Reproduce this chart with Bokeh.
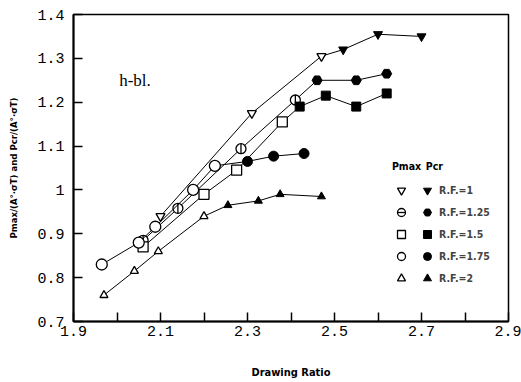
from bokeh.plotting import figure
from bokeh.models import FixedTicker, Legend, LegendItem, Label
from bokeh.embed import file_html
from bokeh.resources import INLINE
import math

# ---- data ----
rf1_pmax_x = [2.10, 2.31, 2.47]
rf1_pmax_y = [0.94, 1.175, 1.305]
rf1_pcr_x = [2.52, 2.60, 2.70]
rf1_pcr_y = [1.32, 1.355, 1.35]

rf125_pmax_x = [2.06, 2.14, 2.285, 2.41]
rf125_pmax_y = [0.885, 0.958, 1.094, 1.205]
rf125_pcr_x = [2.46, 2.55, 2.62]
rf125_pcr_y = [1.25, 1.25, 1.265]

rf15_pmax_x = [2.06, 2.20, 2.275, 2.38]
rf15_pmax_y = [0.87, 0.99, 1.045, 1.155]
rf15_pcr_x = [2.42, 2.48, 2.55, 2.62]
rf15_pcr_y = [1.19, 1.215, 1.19, 1.22]

rf175_pmax_x = [1.965, 2.05, 2.088, 2.175, 2.225]
rf175_pmax_y = [0.83, 0.88, 0.916, 1.0, 1.055]
rf175_pcr_x = [2.30, 2.36, 2.43]
rf175_pcr_y = [1.065, 1.077, 1.083]

rf2_pmax_x = [1.97, 2.04, 2.095, 2.20]
rf2_pmax_y = [0.76, 0.815, 0.86, 0.94]
rf2_pcr_x = [2.255, 2.325, 2.375, 2.47]
rf2_pcr_y = [0.965, 0.975, 0.99, 0.985]

series_labels = ["R.F.=1", "R.F.=1.25", "R.F.=1.5", "R.F.=1.75", "R.F.=2"]

x_major = [1.9, 2.1, 2.3, 2.5, 2.7, 2.9]
x_minor = [2.0, 2.2, 2.4, 2.6, 2.8]
y_ticks = [0.7, 0.8, 0.9, 1.0, 1.1, 1.2, 1.3, 1.4]
y_tick_labels = ["0.7", "0.8", "0.9", "1", "1.1", "1.2", "1.3", "1.4"]

TICK_FONT = "Liberation Mono"
NARROW = "Liberation Sans Narrow, DejaVu Sans Condensed, Arial Narrow, sans-serif"

p = figure(width=521, height=382, output_backend="svg", toolbar_location=None,
           x_range=(1.9, 2.9), y_range=(0.7, 1.4),
           min_border_left=73, min_border_right=13, min_border_top=14, min_border_bottom=61,
           background_fill_color="white", border_fill_color="white")
p.xgrid.visible = False
p.ygrid.visible = False
p.outline_line_color = "black"
p.outline_line_width = 1.5

p.xaxis.ticker = FixedTicker(ticks=x_major, minor_ticks=x_minor)
p.yaxis.ticker = FixedTicker(ticks=y_ticks)
p.yaxis.major_label_overrides = {t: s for t, s in zip(y_ticks, y_tick_labels)}
p.xaxis.major_label_overrides = {t: f"{t:.1f}" for t in x_major}

for ax in (p.xaxis[0], p.yaxis[0]):
    ax.axis_line_width = 2
    ax.axis_line_color = "black"
    ax.major_tick_in = 9
    ax.major_tick_out = 0
    ax.minor_tick_in = 9
    ax.minor_tick_out = 0
    ax.major_tick_line_width = 1.5
    ax.minor_tick_line_width = 1.5
    ax.major_label_text_font = TICK_FONT
    ax.major_label_text_font_size = "15px"
    ax.major_label_text_color = "black"
    ax.axis_label_text_font = NARROW
    ax.axis_label_text_font_style = "bold"
    ax.axis_label_text_color = "black"

p.xaxis.axis_label_text_font_size = "11px"
p.yaxis.axis_label_text_font_size = "9.5px"
p.yaxis.minor_tick_line_color = None
p.yaxis.major_label_standoff = 9
p.xaxis.major_label_standoff = 4
p.xaxis.axis_label = "Drawing Ratio"
p.xaxis.axis_label_standoff = 27
p.yaxis.axis_label = "Pmax/(A°·σT) and Pcr/(A°·σT)"
p.yaxis.axis_label_standoff = 15

series = [
    (rf1_pmax_x, rf1_pmax_y, rf1_pcr_x, rf1_pcr_y, "inverted_triangle", "inverted_triangle", 9, 9),
    (rf125_pmax_x, rf125_pmax_y, rf125_pcr_x, rf125_pcr_y, "circle", "hex", 10, 10),
    (rf15_pmax_x, rf15_pmax_y, rf15_pcr_x, rf15_pcr_y, "square", "square", 10, 9),
    (rf175_pmax_x, rf175_pmax_y, rf175_pcr_x, rf175_pcr_y, "circle", "circle", 11, 10),
    (rf2_pmax_x, rf2_pmax_y, rf2_pcr_x, rf2_pcr_y, "triangle", "triangle", 8, 8),
]

open_items = []
fill_items = []
for i, (px, py, cx, cy, om, fm, osz, fsz) in enumerate(series):
    xs = list(px) + list(cx)
    ys = list(py) + list(cy)
    p.line(xs, ys, line_color="black", line_width=1)
    r_open = [p.scatter(px, py, marker=om, size=osz, fill_color="white",
                        line_color="black", line_width=1.3)]
    if i == 1:
        # Phi-like marker: circle with vertical bar
        r_open.append(p.scatter(px, py, marker="dash", size=osz, angle=math.pi / 2,
                                line_color="black", line_width=1.3))
    r_fill = p.scatter(cx, cy, marker=fm, size=fsz, fill_color="black",
                       line_color="black", line_width=1)
    open_items.append(LegendItem(label=" ", renderers=r_open))
    fill_items.append(LegendItem(label=series_labels[i], renderers=[r_fill]))

common = dict(background_fill_alpha=0, border_line_color=None, padding=0, margin=0,
              spacing=2, glyph_height=20, label_height=20, glyph_width=20,
              label_text_font=NARROW, label_text_font_style="bold",
              label_text_font_size="10.5px", label_standoff=2)

leg1 = Legend(items=open_items, location=(318, 33), **common)
leg2 = Legend(items=fill_items, location=(344, 33), **common)
p.add_layout(leg1, "center")
p.add_layout(leg2, "center")

p.add_layout(Label(x=2.005, y=1.25, text="h-bl.", text_font="Liberation Serif",
                   text_font_size="17px", text_baseline="middle", text_color="black"))
p.add_layout(Label(x=2.632, y=1.055, text="Pmax", text_font=NARROW, text_font_style="bold",
                   text_font_size="10.5px", text_baseline="middle", text_color="black"))
p.add_layout(Label(x=2.71, y=1.055, text="Pcr", text_font=NARROW, text_font_style="bold",
                   text_font_size="10.5px", text_baseline="middle", text_color="black"))

open("out.html", "w").write(file_html(p, INLINE))
